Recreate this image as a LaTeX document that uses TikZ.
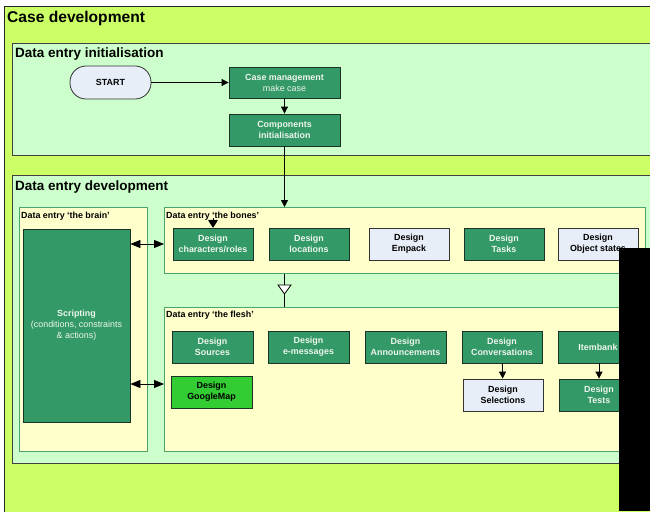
\documentclass[tikz,border=0pt]{standalone}
\usepackage{fontspec}
\setmainfont{Liberation Sans}
\usetikzlibrary{arrows.meta,calc}
\definecolor{outerc}{HTML}{CCFF66}
\definecolor{areac}{HTML}{CCFFCC}
\definecolor{contc}{HTML}{FFFFCC}
\definecolor{contb}{HTML}{4CA36F}
\definecolor{darkg}{HTML}{339966}
\definecolor{darkb}{HTML}{1B3326}
\definecolor{lightc}{HTML}{E8EEF8}
\definecolor{brightg}{HTML}{33CC33}
\definecolor{wtext}{HTML}{EEF6EE}
\tikzset{
  nodefont/.style={font=\bfseries\fontsize{8.9}{11}\selectfont},
  dnode/.style={draw=darkb, line width=0.8pt, fill=darkg, text=wtext, nodefont, align=center, minimum width=80pt, minimum height=32pt, inner sep=1pt},
  lnode/.style={draw=black!80, line width=0.8pt, fill=lightc, text=black, nodefont, align=center, minimum width=80pt, minimum height=32pt, inner sep=1pt},
  gnode/.style={draw=darkb, line width=0.8pt, fill=brightg, text=black, nodefont, align=center, minimum width=81pt, minimum height=32pt, inner sep=1pt},
  container/.style={draw=contb, line width=0.8pt, fill=contc, anchor=north west, inner sep=0pt},
  area/.style={draw=black!75, line width=0.8pt, fill=areac, anchor=north west, inner sep=0pt},
  bighead/.style={anchor=base west, inner sep=0pt, font=\bfseries\fontsize{15.6}{18}\selectfont},
  midhead/.style={anchor=base west, inner sep=0pt, font=\bfseries\fontsize{13.5}{16}\selectfont},
  smallhead/.style={anchor=base west, inner sep=0pt, font=\bfseries\fontsize{8.9}{11}\selectfont},
  arr/.style={line width=0.8pt, -{Triangle[length=7pt,width=7pt]}},
  dbl/.style={line width=0.8pt, {Triangle[length=10pt,width=8pt]}-{Triangle[length=10pt,width=8pt]}},
}
\begin{document}
\begin{tikzpicture}[x=1pt,y=-1pt]
\useasboundingbox (0,0) rectangle (650,511);
\clip (0,0) rectangle (650,511);
\fill[white] (0,0) rectangle (650,511);
% outer
\node[area, fill=outerc, draw=black!85, minimum width=700pt, minimum height=560pt] (outer) at (4,6) {};
\node[bighead] (outerlbl) at (7,23) {Case development};
% initialisation
\node[area, minimum width=700pt, minimum height=112pt] (init) at (12,43) {};
\node[midhead] (initlbl) at (15,58) {Data entry initialisation};
% development
\node[area, minimum width=700pt, minimum height=288pt] (dev) at (12,175) {};
\node[midhead] (devlbl) at (15,190) {Data entry development};
% containers
\node[container, minimum width=128pt, minimum height=244pt] (brain) at (19,207) {};
\node[smallhead] (brainlbl) at (21,218) {Data entry ‘the brain’};
\node[container, minimum width=481pt, minimum height=66pt] (bones) at (164,207) {};
\node[smallhead] (boneslbl) at (166,218) {Data entry ‘the bones’};
\node[container, minimum width=481pt, minimum height=144pt] (flesh) at (164,307) {};
\node[smallhead] (fleshlbl) at (166,317) {Data entry ‘the flesh’};
% init nodes
\node[draw=black!80, line width=0.8pt, fill=lightc, rounded corners=16pt, minimum width=81pt, minimum height=33pt, nodefont] (start) at (110.5,82.5) {START};
\node[dnode, minimum width=111pt, minimum height=31pt] (casem) at (284.5,82.5) {Case management\\\mdseries make case};
\node[dnode, minimum width=111pt, minimum height=32pt] (comp) at (284.5,130) {Components\\initialisation};
% scripting
\node[dnode, minimum width=107pt, minimum height=193pt] (script) at (76.5,325.5) {Scripting\\\mdseries (conditions, constraints\\\mdseries \& actions)};
% bones row
\node[dnode] (char) at (213,244) {Design\\characters/roles};
\node[dnode] (loc) at (309,244) {Design\\locations};
\node[lnode] (empack) at (409,244) {Design\\Empack};
\node[dnode] (tasks) at (504,244) {Design\\Tasks};
\node[lnode] (objst) at (598,244) {Design\\Object states};
% flesh rows
\node[dnode, minimum width=81pt] (sources) at (212.5,347) {Design\\Sources};
\node[dnode, minimum width=81pt] (emsg) at (308.5,347) {Design\\e-messages};
\node[dnode, minimum width=81pt] (annc) at (405.5,347) {Design\\Announcements};
\node[dnode] (conv) at (502,347) {Design\\Conversations};
\node[dnode] (itemb) at (598,347) {Itembank};
\node[gnode] (gmap) at (211.5,392) {Design\\GoogleMap};
\node[lnode] (sel) at (503,395) {Design\\Selections};
\node[dnode] (tests) at (599,395) {Design\\Tests};
% connectors
\draw[arr] (start) -- (casem);
\draw[arr] (casem) -- (comp);
\draw[arr] (comp.south) -- (comp.south |- bones.north);
\coordinate (charin) at (213,218);
\draw[line width=0.8pt, -{Triangle[length=8pt,width=10pt,round]}] (charin) -- (char.north);
\draw[dbl] (script.east |- char.west) -- (bones.west |- char.west);
\coordinate (fy) at (0,384);
\draw[dbl] (script.east |- fy) -- (flesh.west |- fy);
\draw[line width=0.8pt] (comp.south |- bones.south) -- (comp.south |- flesh.north);
\coordinate (tri) at (284.5,285);
\draw[line width=0.8pt, fill=white] ($(tri)+(-6.5,0)$) -- ($(tri)+(6.5,0)$) -- ($(tri)+(0,9)$) -- cycle;
\draw[arr] (conv) -- (sel);
\draw[arr] (itemb.south -| tests.north) -- (tests.north);
% occluding block
\fill[black] (619,248) rectangle (650,511);
\end{tikzpicture}
\end{document}
